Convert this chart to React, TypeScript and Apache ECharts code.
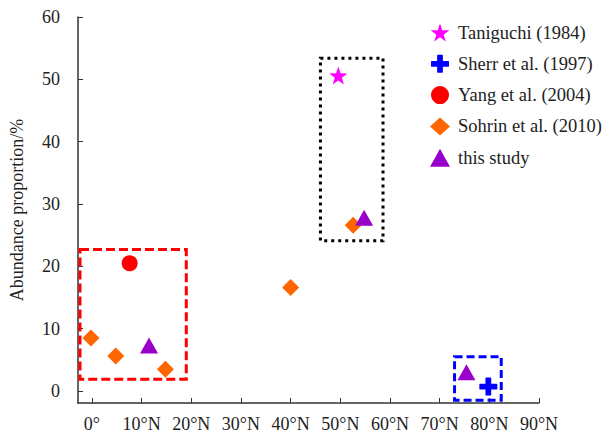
import React, { useEffect, useRef } from "react";
import * as echarts from "echarts";

const xTicks = [0, 10, 20, 30, 40, 50, 60, 70, 80, 90];
const yTicks = [0, 10, 20, 30, 40, 50, 60];

const taniguchi = [[49.6, 50.6]];
const sherr = [[79.8, 0.7]];
const yang = [[7.6, 20.5]];
const sohrin = [
  [-0.2, 8.5],
  [4.8, 5.6],
  [14.8, 3.5],
  [40.0, 16.6],
  [52.6, 26.6],
];
const thisStudy = [
  [11.5, 7.3],
  [54.8, 27.8],
  [75.4, 3.0],
];

const redBox = [[-2.4, 22.7], [19.0, 1.9]];
const blackBox = [[46.0, 53.4], [58.6, 24.1]];
const blueBox = [[73.0, 5.5], [82.4, -1.5]];

const FONT = "'Liberation Serif', 'Times New Roman', serif";

const STAR =
  "path://M50,0 L61.8,35.1 L98.9,35.5 L69.1,57.6 L80.3,93.1 L50,71.5 L19.7,93.1 L30.9,57.6 L1.1,35.5 L38.2,35.1 Z";
const CROSS =
  "path://M34,4 Q34,0 38,0 L62,0 Q66,0 66,4 L66,34 L96,34 Q100,34 100,38 L100,62 Q100,66 96,66 L66,66 L66,96 Q66,100 62,100 L38,100 Q34,100 34,96 L34,66 L4,66 Q0,66 0,62 L0,38 Q0,34 4,34 L34,34 Z";

export default function App() {
  const ref = useRef<HTMLDivElement>(null);
  useEffect(() => {
    if (!ref.current) return;
    const chart = echarts.init(ref.current, null, { renderer: "svg" });
    const box = (b: number[][], color: string, dash: number[]) => [
      {
        coord: [b[0][0], b[0][1]],
        itemStyle: {
          color: "rgba(0,0,0,0)",
          borderColor: color,
          borderWidth: 3,
          borderType: dash,
        },
      },
      { coord: [b[1][0], b[1][1]] },
    ];
    chart.setOption({
      animation: false,
      backgroundColor: "#fff",
      grid: { left: 76, right: 66, top: 17, bottom: 31 },
      legend: {
        orient: "vertical",
        left: 425,
        top: 18,
        itemWidth: 20,
        itemHeight: 18,
        itemGap: 12.3,
        data: ["Taniguchi (1984)", "Sherr et al. (1997)", "Yang et al. (2004)", "Sohrin et al. (2010)", "this study"],
        textStyle: { fontFamily: FONT, fontSize: 18.5, color: "#222", padding: [0, 0, 0, 3] },
      },
      xAxis: {
        type: "value",
        min: -2.8,
        max: 90,
        splitLine: { show: false },
        axisLine: { show: true, onZero: false, lineStyle: { color: "#333", width: 1.5 } },
        axisTick: { show: true, inside: true, length: 5, customValues: xTicks, lineStyle: { color: "#333" } },
        axisLabel: {
          customValues: xTicks,
          margin: 12,
          fontFamily: FONT,
          fontSize: 18,
          color: "#222",
          formatter: (v: number) => (v === 0 ? "0°" : v + "°N"),
        },
      },
      yAxis: {
        type: "value",
        min: -1.93,
        max: 60,
        splitLine: { show: false },
        name: "Abundance proportion/%",
        nameLocation: "middle",
        nameGap: 52,
        nameTextStyle: { fontFamily: FONT, fontSize: 18, color: "#222" },
        axisLine: { show: true, onZero: false, lineStyle: { color: "#333", width: 1.5 } },
        axisTick: { show: true, inside: true, length: 5, customValues: yTicks, lineStyle: { color: "#333" } },
        axisLabel: {
          customValues: yTicks,
          margin: 18,
          fontFamily: FONT,
          fontSize: 18,
          color: "#222",
        },
      },
      series: [
        {
          type: "scatter",
          name: "boxes",
          data: [],
          silent: true,
          markArea: {
            silent: true,
            label: { show: false },
            data: [
              box(redBox, "#ff0000", [9, 4]),
              box(blackBox, "#000000", [3, 4]),
              box(blueBox, "#0000ff", [8, 4]),
            ],
          },
        },
        {
          type: "scatter",
          name: "Taniguchi (1984)",
          data: taniguchi,
          symbol: STAR,
          symbolSize: 18,
          itemStyle: { color: "#ff00ff", opacity: 1 },
        },
        {
          type: "scatter",
          name: "Sherr et al. (1997)",
          data: sherr,
          symbol: CROSS,
          symbolSize: 18,
          itemStyle: { color: "#0000ff", opacity: 1 },
        },
        {
          type: "scatter",
          name: "Yang et al. (2004)",
          data: yang,
          symbol: "circle",
          symbolSize: 16,
          itemStyle: { color: "#ff0000", opacity: 1 },
        },
        {
          type: "scatter",
          name: "Sohrin et al. (2010)",
          data: sohrin,
          symbol: "diamond",
          symbolSize: 17,
          itemStyle: { color: "#ff6600", opacity: 1 },
        },
        {
          type: "scatter",
          name: "this study",
          data: thisStudy,
          symbol: "triangle",
          symbolSize: [18, 16],
          itemStyle: { color: "#9900cc", opacity: 1 },
        },
      ],
    });
    return () => chart.dispose();
  }, []);
  return <div ref={ref} style={{ width: 605, height: 434, position: "fixed", left: 0, top: 0 }} />;
}
